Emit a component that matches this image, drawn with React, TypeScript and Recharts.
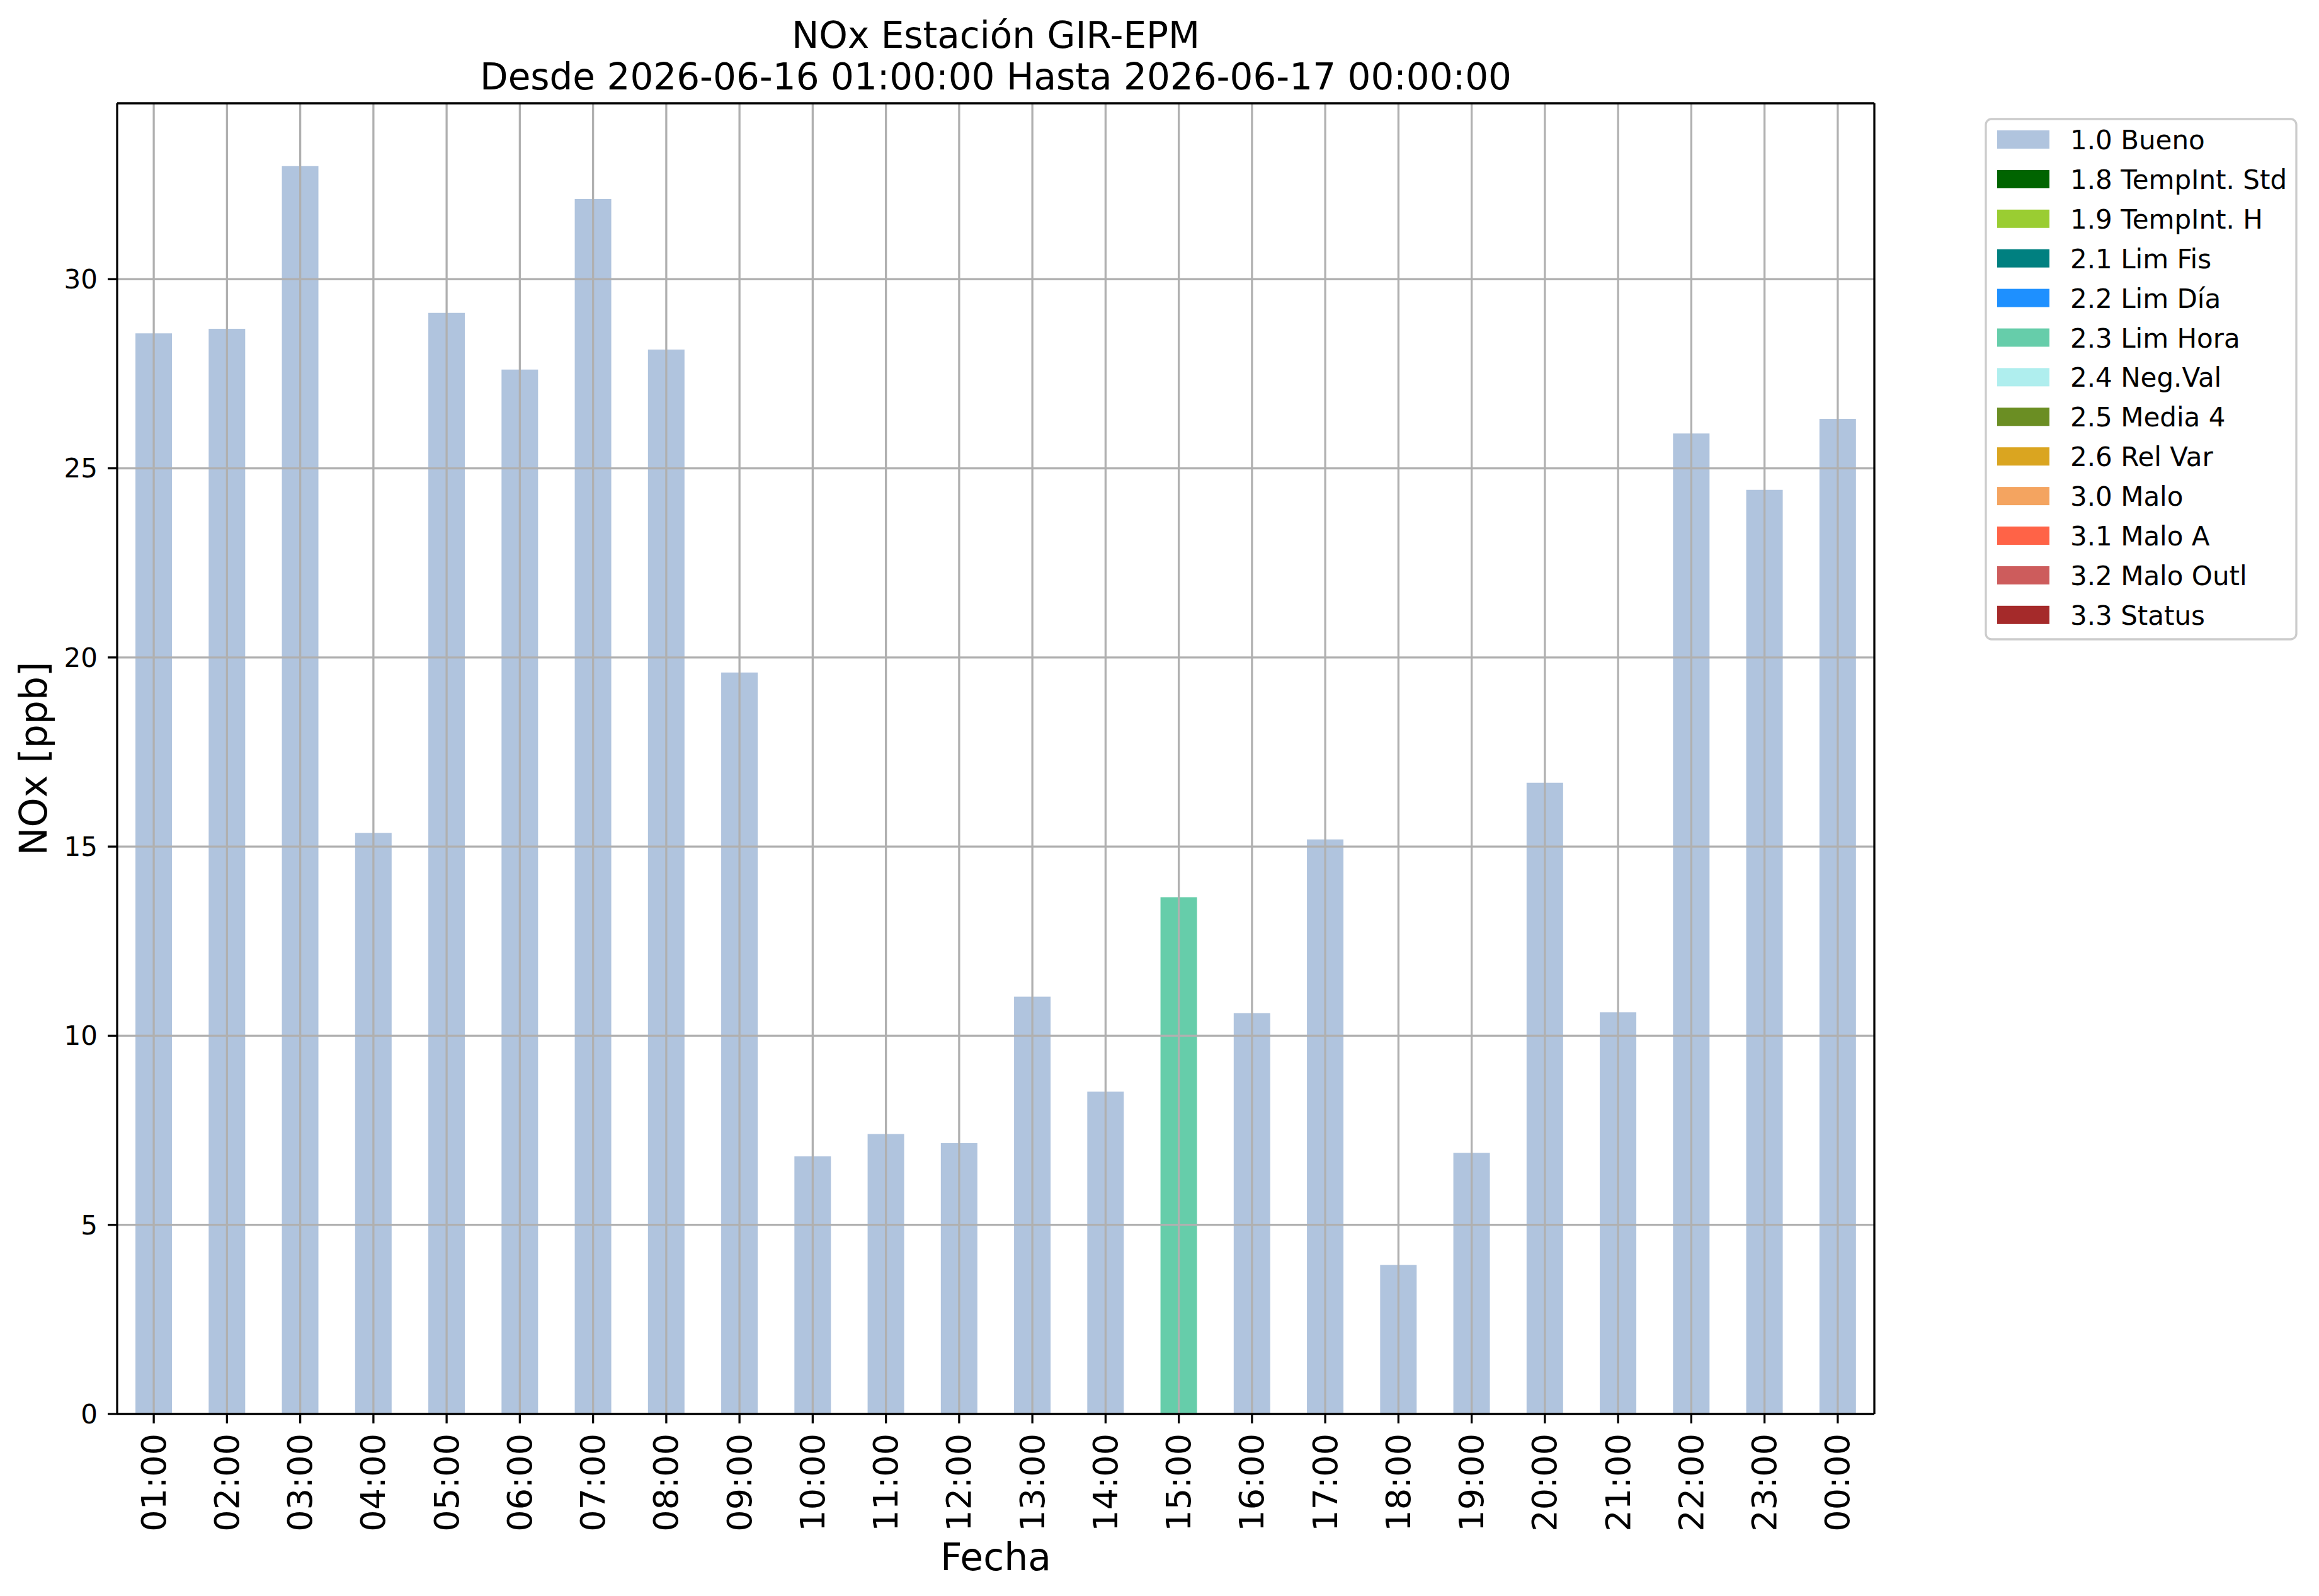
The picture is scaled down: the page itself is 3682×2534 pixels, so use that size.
import React from "react";
import { Bar, BarChart, ReferenceLine, XAxis, YAxis } from "recharts";

const FONT = "DejaVu Sans";

const hours = [
  "01:00", "02:00", "03:00", "04:00", "05:00", "06:00", "07:00", "08:00",
  "09:00", "10:00", "11:00", "12:00", "13:00", "14:00", "15:00", "16:00",
  "17:00", "18:00", "19:00", "20:00", "21:00", "22:00", "23:00", "00:00",
];

const noxValues = [
  28.57, 28.69, 32.99, 15.36, 29.11, 27.61, 32.12, 28.14, 19.6, 6.81, 7.4,
  7.16, 11.03, 8.52, 13.66, 10.6, 15.19, 3.94, 6.9, 16.69, 10.62, 25.92,
  24.43, 26.31,
];

// quality flag of each hour
const hourFlags = [
  "1.0", "1.0", "1.0", "1.0", "1.0", "1.0", "1.0", "1.0", "1.0", "1.0",
  "1.0", "1.0", "1.0", "1.0", "2.3", "1.0", "1.0", "1.0", "1.0", "1.0",
  "1.0", "1.0", "1.0", "1.0",
];

const flagCodes = [
  "1.0", "1.8", "1.9", "2.1", "2.2", "2.3", "2.4", "2.5", "2.6", "3.0",
  "3.1", "3.2", "3.3",
];
const flagNames = [
  "Bueno", "TempInt. Std", "TempInt. H", "Lim Fis", "Lim Día", "Lim Hora",
  "Neg.Val", "Media 4", "Rel Var", "Malo", "Malo A", "Malo Outl", "Status",
];
const flagColors = [
  "#b0c4de", "#006400", "#9acd32", "#008080", "#1e90ff", "#66cdaa",
  "#afeeee", "#6b8e23", "#daa520", "#f4a460", "#ff6347", "#cd5c5c",
  "#a52a2a",
];

const yTicks = [0, 5, 10, 15, 20, 25, 30];
const yMax = 34.65;

const titleLines = [
  "NOx Estación GIR-EPM",
  "Desde 2026-06-16 01:00:00 Hasta 2026-06-17 00:00:00",
];

const flagKey = (code: string) => "f" + code.replace(".", "_");

const data = hours.map((hour, i) => {
  const row: Record<string, string | number> = { hour };
  flagCodes.forEach((code) => {
    row[flagKey(code)] = hourFlags[i] === code ? noxValues[i] : 0;
  });
  return row;
});

function HourTick({ x, y, payload }: any) {
  return (
    <g transform={`translate(${x},${y})`}>
      <text
        x={-16}
        y={0}
        transform="rotate(-90)"
        textAnchor="end"
        dominantBaseline="central"
        fill="#000"
        fontSize={54}
        fontFamily={FONT}
      >
        {payload.value}
      </text>
    </g>
  );
}

function Legendbox() {
  return (
    <g>
      <rect
        x={3153}
        y={189}
        width={493}
        height={826}
        rx={9}
        fill="#fff"
        fillOpacity={0.8}
        stroke="#cccccc"
        strokeWidth={3.3}
      />
      {flagCodes.map((code, i) => (
        <g key={code}>
          <rect x={3171} y={207 + i * 62.9} width={83} height={29} fill={flagColors[i]} />
          <text x={3287} y={237 + i * 62.9} fontSize={42} fontFamily={FONT} fill="#000">
            {code + " " + flagNames[i]}
          </text>
        </g>
      ))}
    </g>
  );
}

export default function App() {
  const axisLine = { stroke: "#000", strokeWidth: 3.3 };
  const grid = { stroke: "#b0b0b0", strokeWidth: 3.3 };
  return (
    <div
      style={{
        position: "absolute",
        left: 0,
        top: 0,
        width: 3682,
        height: 2534,
        background: "#fff",
        overflow: "hidden",
      }}
    >
      <BarChart
        width={3682}
        height={2534}
        data={data}
        margin={{ top: 164, right: 706, bottom: 0, left: 0 }}
        barCategoryGap="25%"
      >
        {flagCodes.map((code, i) => (
          <Bar
            key={code}
            dataKey={flagKey(code)}
            stackId="nox"
            fill={flagColors[i]}
            isAnimationActive={false}
          />
        ))}
        {/* grid drawn over the bars, as in the original */}
        {hours.map((h) => (
          <ReferenceLine key={"gx" + h} x={h} {...grid} />
        ))}
        {yTicks.map((t) => (
          <ReferenceLine key={"gy" + t} y={t} {...grid} />
        ))}
        {/* top and right spines */}
        <ReferenceLine y={yMax} {...axisLine} />
        <ReferenceLine x={hours[hours.length - 1]} position="end" {...axisLine} />
        <XAxis
          dataKey="hour"
          interval={0}
          height={289}
          tickSize={15}
          tickMargin={0}
          axisLine={axisLine}
          tickLine={{ stroke: "#000", strokeWidth: 3.3 }}
          tick={<HourTick />}
          label={{
            content: ({ viewBox }: any) => (
              <text
                x={viewBox.x + viewBox.width / 2}
                y={viewBox.y + 248}
                textAnchor="middle"
                fontSize={60}
                fontFamily={FONT}
                fill="#000"
              >
                Fecha
              </text>
            ),
          }}
        />
        <YAxis
          type="number"
          domain={[0, yMax]}
          ticks={yTicks}
          allowDataOverflow
          interval={0}
          width={186}
          tickSize={15}
          tickMargin={16}
          axisLine={axisLine}
          tickLine={{ stroke: "#000", strokeWidth: 3.3 }}
          tick={{ fill: "#000", fontSize: 42, fontFamily: FONT }}
          label={{
            content: ({ viewBox }: any) => {
              const cy = viewBox.y + viewBox.height / 2;
              return (
                <text
                  x={74}
                  y={cy}
                  transform={`rotate(-90, 74, ${cy})`}
                  textAnchor="middle"
                  fontSize={60}
                  fontFamily={FONT}
                  fill="#000"
                >
                  NOx [ppb]
                </text>
              );
            },
          }}
        />
      </BarChart>
      <svg
        width={3682}
        height={2534}
        style={{ position: "absolute", left: 0, top: 0, pointerEvents: "none" }}
      >
        {titleLines.map((line, i) => (
          <text
            key={i}
            x={1581}
            y={76 + i * 66}
            textAnchor="middle"
            fontSize={58}
            fontFamily={FONT}
            fill="#000"
          >
            {line}
          </text>
        ))}
        <Legendbox />
      </svg>
    </div>
  );
}
